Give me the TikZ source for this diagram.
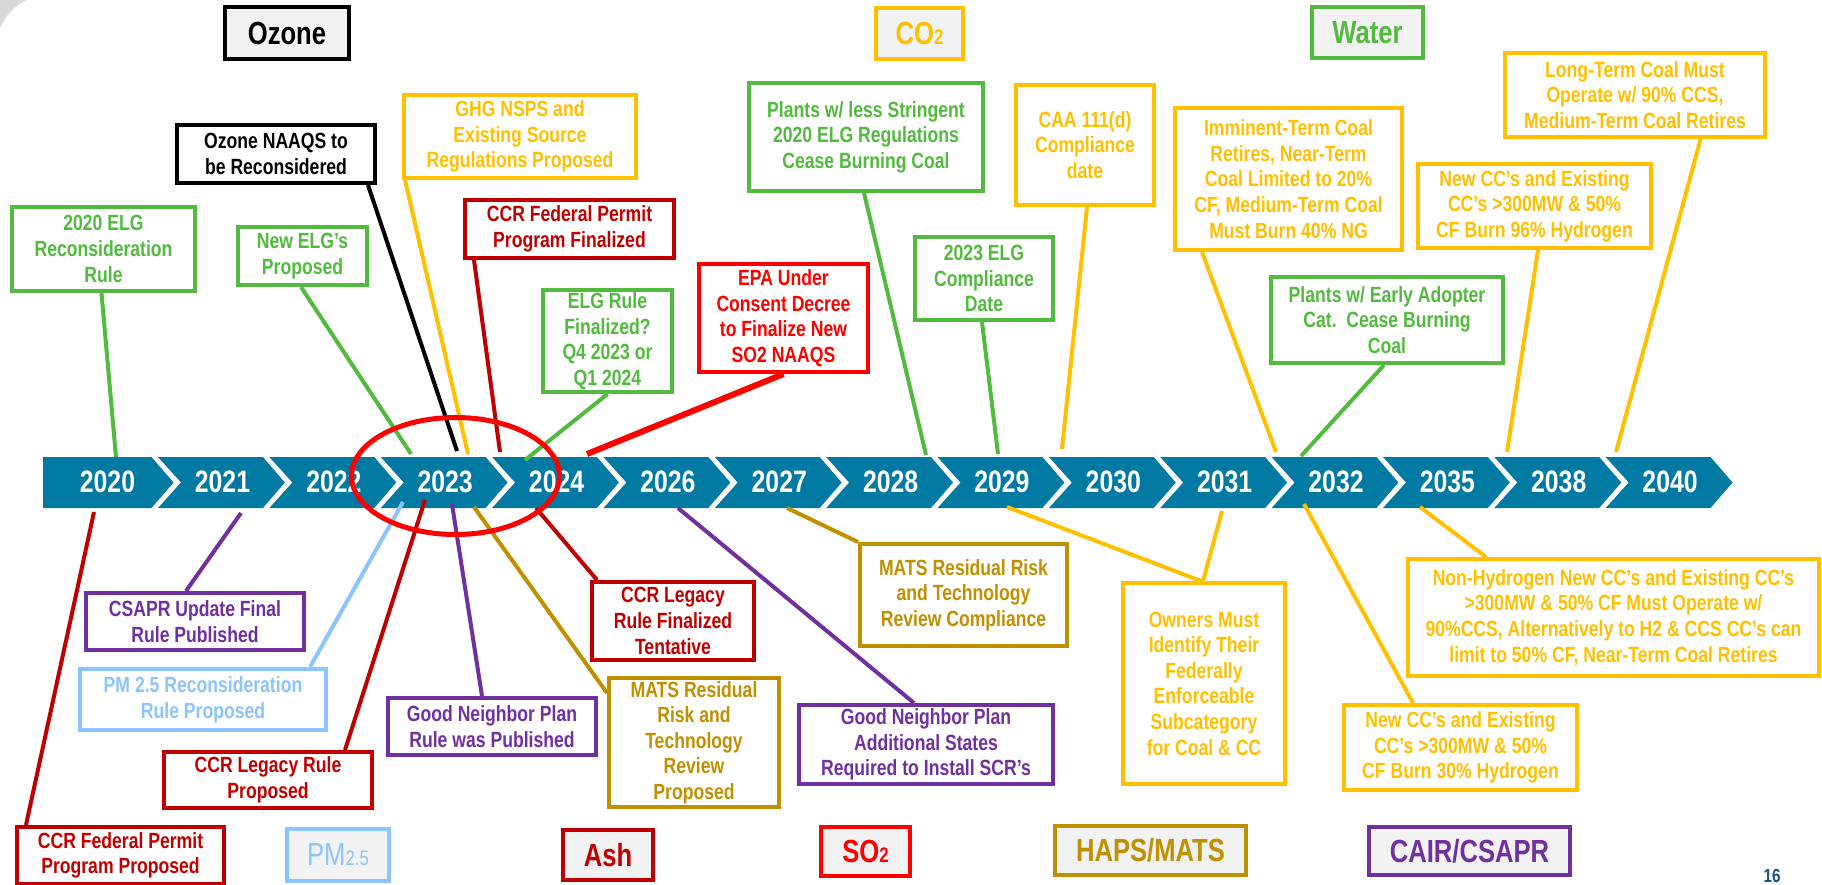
\documentclass[tikz,border=0pt]{standalone}
\usepackage{fontspec}
\setmainfont{Liberation Sans}[FakeStretch=0.8]
\usetikzlibrary{calc}
\pgfdeclarelayer{barlayer}
\pgfdeclarelayer{linelayer}
\pgfsetlayers{barlayer,linelayer,main}
\definecolor{cgreen}{RGB}{82,186,62}
\definecolor{cyellow}{RGB}{255,192,0}
\definecolor{cdred}{RGB}{192,0,0}
\definecolor{cred}{RGB}{255,0,0}
\definecolor{cpurple}{RGB}{112,48,160}
\definecolor{clblue}{RGB}{140,196,255}
\definecolor{colive}{RGB}{191,144,0}
\definecolor{barblue}{RGB}{0,122,162}
\definecolor{catgray}{RGB}{242,242,242}
\definecolor{pagenum}{RGB}{24,82,120}
\definecolor{cornergray}{RGB}{217,217,217}
\newcommand\tbox[7]{\node[box,draw=#2,text=#2,minimum width={#5-#3-4},minimum height={#6-#4-4}] (#1) at ({(#3+#5)/2},{(#4+#6)/2}) {#7};}
\newcommand\cbox[7]{\node[catbox,draw=#2,text=#2,minimum width={#5-#3-4},minimum height={#6-#4-4}] (#1) at ({(#3+#5)/2},{(#4+#6)/2}) {#7};}
\begin{document}
\begin{tikzpicture}[x=1pt,y=-1pt,
  box/.style={line width=4pt,fill=white,inner sep=0pt,align=center,font=\bfseries\fontsize{22}{25.6}\selectfont},
  catbox/.style={line width=4pt,fill=catgray,inner sep=0pt,align=center,font=\bfseries\fontsize{32}{36}\selectfont},
  conn/.style={line width=4pt},
  year/.style={text=white,inner sep=0pt,font=\bfseries\fontsize{31}{34}\selectfont}]
\useasboundingbox (0,0) rectangle (1822,884);
% corner decoration
\fill[cornergray] (0,0) -- (27,0) .. controls (15,5) and (5,16) .. (0,28) -- cycle;
% timeline bar
\begin{pgfonlayer}{barlayer}
\foreach \i/\yr in {0/2020,1/2021,2/2022,3/2023,4/2024,5/2026,6/2027,7/2028,8/2029,9/2030,10/2031,11/2032,12/2035,13/2038,14/2040} {
  \pgfmathsetmacro\L{158+111.36*(\i-1)}
  \pgfmathsetmacro\R{151.5+111.36*\i}
  \ifnum\i=0
    \fill[barblue] (43,457) -- (\R,457) -- ({\R+22},482.5) -- (\R,508) -- (43,508) -- cycle;
  \else
    \fill[barblue] (\L,457) -- (\R,457) -- ({\R+22},482.5) -- (\R,508) -- (\L,508) -- ({\L+23},482.5) -- cycle;
  \fi
}
\end{pgfonlayer}
\foreach \i/\yr in {0/2020,1/2021,2/2022,3/2023,4/2024,5/2026,6/2027,7/2028,8/2029,9/2030,10/2031,11/2032,12/2035,13/2038,14/2040} {
  \pgfmathsetmacro\c{\i==0 ? 107.5 : 222.5+111.35*(\i-1)}
  \node[year] (y\yr) at (\c,482) {\yr};
}
% bar end points of connectors
\coordinate (u1) at (116,457);
\coordinate (u2) at (411,454);
\coordinate (u3) at (457,451);
\coordinate (u4) at (468,454);
\coordinate (u5) at (500,452);
\coordinate (u6) at (525,460);
\coordinate (u7) at (587,454);
\coordinate (u8) at (926,455);
\coordinate (u9) at (998,454);
\coordinate (u10) at (1062,449);
\coordinate (u11) at (1276,452);
\coordinate (u12) at (1301,456);
\coordinate (u13) at (1507,452);
\coordinate (u14) at (1616,452);
\coordinate (d15) at (94,512);
\coordinate (d16) at (241,513);
\coordinate (d17) at (403,502);
\coordinate (d18) at (425,500);
\coordinate (d19) at (452,504);
\coordinate (d20) at (474,507);
\coordinate (d21) at (536,508);
\coordinate (d22) at (678,508);
\coordinate (d23) at (787,508);
\coordinate (d24a) at (1007,507);
\coordinate (d24b) at (1222,511);
\coordinate (d25) at (1304,504);
\coordinate (d26) at (1420,507);
% upper boxes
\tbox{bELG20}{cgreen}{10}{205}{197}{293}{2020 ELG\\Reconsideration\\Rule}
\tbox{bNewELG}{cgreen}{236}{225}{369}{287}{New ELG’s\\Proposed}
\tbox{bOzN}{black}{175}{123}{377}{185}{Ozone NAAQS to\\be Reconsidered}
\tbox{bGHG}{cyellow}{402}{93}{638}{180}{GHG NSPS and\\Existing Source\\Regulations Proposed}
\tbox{bCCRF}{cdred}{463}{198}{676}{260}{CCR Federal Permit\\Program Finalized}
\tbox{bELGR}{cgreen}{541}{288}{674}{394}{ELG Rule\\Finalized?\\Q4 2023 or\\Q1 2024}
\tbox{bEPA}{cred}{697}{262}{870}{374}{EPA Under\\Consent Decree\\to Finalize New\\SO2 NAAQS}
\tbox{bPlants}{cgreen}{747}{81}{985}{193}{Plants w/ less Stringent\\2020 ELG Regulations\\Cease Burning Coal}
\tbox{bELG23}{cgreen}{913}{235}{1055}{322}{2023 ELG\\Compliance\\Date}
\tbox{bCAA}{cyellow}{1014}{83}{1156}{207}{CAA 111(d)\\Compliance\\date}
\tbox{bImm}{cyellow}{1173}{106}{1404}{252}{Imminent-Term Coal\\Retires, Near-Term\\Coal Limited to 20\%\\CF, Medium-Term Coal\\Must Burn 40\% NG}
\tbox{bEarly}{cgreen}{1269}{275}{1505}{365}{Plants w/ Early Adopter\\Cat.\ \ Cease Burning\\Coal}
\tbox{bCC96}{cyellow}{1416}{162}{1653}{250}{New CC’s and Existing\\CC’s >300MW \& 50\%\\CF Burn 96\% Hydrogen}
\tbox{bLong}{cyellow}{1503}{51}{1767}{139}{Long-Term Coal Must\\Operate w/ 90\% CCS,\\Medium-Term Coal Retires}
% lower boxes
\tbox{bCCRP}{cdred}{15}{825}{226}{886}{CCR Federal Permit\\Program Proposed}
\tbox{bCSAPR}{cpurple}{84}{591}{306}{652}{CSAPR Update Final\\Rule Published}
\tbox{bPMR}{clblue}{78}{667}{328}{732}{PM 2.5 Reconsideration\\Rule Proposed}
\tbox{bCCRL}{cdred}{162}{750}{374}{810}{CCR Legacy Rule\\Proposed}
\tbox{bGNP}{cpurple}{386}{696}{598}{757}{Good Neighbor Plan\\Rule was Published}
\tbox{bCCRT}{cdred}{590}{580}{756}{662}{CCR Legacy\\Rule Finalized\\Tentative}
\tbox{bMATSP}{colive}{607}{676}{781}{809}{MATS Residual\\Risk and\\Technology\\Review\\Proposed}
\tbox{bGNA}{cpurple}{797}{703}{1055}{786}{Good Neighbor Plan\\Additional States\\Required to Install SCR’s}
\tbox{bMATSC}{colive}{858}{542}{1069}{648}{MATS Residual Risk\\and Technology\\Review Compliance}
\tbox{bOwn}{cyellow}{1121}{581}{1287}{786}{Owners Must\\Identify Their\\Federally\\Enforceable\\Subcategory\\for Coal \& CC}
\tbox{bCC30}{cyellow}{1342}{703}{1579}{792}{New CC’s and Existing\\CC’s >300MW \& 50\%\\CF Burn 30\% Hydrogen}
\tbox{bNonH}{cyellow}{1406}{557}{1821}{678}{Non-Hydrogen New CC’s and Existing CC’s\\>300MW \& 50\% CF Must Operate w/\\90\%CCS, Alternatively to H2 \& CCS CC’s can\\limit to 50\% CF, Near-Term Coal Retires}
% connectors
\begin{pgfonlayer}{linelayer}
\draw[conn,cgreen] ([xshift=-2pt]bELG20.south) -- (u1);
\draw[conn,cgreen] ([xshift=-1.5pt]bNewELG.south) -- (u2);
\draw[conn,black] ([xshift=92pt]bOzN.south) -- (u3);
\draw[conn,cyellow] ([xshift=3pt]bGHG.south west) -- (u4);
\draw[conn,cdred] ([xshift=11pt]bCCRF.south west) -- (u5);
\draw[conn,cgreen] (bELGR.south) -- (u6);
\draw[conn,cred,line width=6pt] (bEPA.south) -- (u7);
\draw[conn,cgreen] ([xshift=-2pt]bPlants.south) -- (u8);
\draw[conn,cgreen] ([xshift=-2pt]bELG23.south) -- (u9);
\draw[conn,cyellow] ([xshift=2pt]bCAA.south) -- (u10);
\draw[conn,cyellow] ([xshift=29pt]bImm.south west) -- (u11);
\draw[conn,cgreen] ([xshift=-3pt]bEarly.south) -- (u12);
\draw[conn,cyellow] ([xshift=3.5pt]bCC96.south) -- (u13);
\draw[conn,cyellow] ([xshift=65.6pt]bLong.south) -- (u14);
\draw[conn,cdred] (d15) -- ([xshift=11pt]bCCRP.north west);
\draw[conn,cpurple] (d16) -- ([xshift=-9pt]bCSAPR.north);
\draw[conn,clblue] (d17) -- ([xshift=107pt]bPMR.north);
\draw[conn,cdred] (d18) -- ([xshift=77pt]bCCRL.north);
\draw[conn,cpurple] (d19) -- ([xshift=-10pt]bGNP.north);
\draw[conn,colive] (d20) -- ([yshift=-17pt]bMATSP.north west);
\draw[conn,cdred] (d21) -- ([xshift=7pt]bCCRT.north west);
\draw[conn,cpurple] (d22) -- ([xshift=-12pt]bGNA.north);
\draw[conn,colive] (d23) -- (bMATSC.north west);
\draw[conn,cyellow] (d24a) -- ([xshift=-3pt]bOwn.north);
\draw[conn,cyellow] (d24b) -- ([xshift=-1pt]bOwn.north);
\draw[conn,cyellow] (d25) -- ([xshift=-47.5pt]bCC30.north);
\draw[conn,cyellow] (d26) -- ([xshift=80pt]bNonH.north west);
\end{pgfonlayer}
% category boxes
\cbox{cOzone}{black}{223}{5}{351}{61}{Ozone}
\cbox{cCO2}{cyellow}{874}{6}{965}{61}{CO{\fontsize{21}{21}\selectfont 2}}
\cbox{cWater}{cgreen}{1310}{5}{1425}{60}{Water}
\cbox{cPM}{clblue}{285}{827}{391}{883}{\mdseries PM{\fontsize{21}{21}\selectfont 2.5}}
\cbox{cAsh}{cdred}{561}{828}{655}{882}{Ash}
\cbox{cSO2}{cred}{819}{825}{912}{878}{SO{\fontsize{21}{21}\selectfont 2}}
\cbox{cHAPS}{colive}{1053}{824}{1248}{877}{HAPS/MATS}
\cbox{cCAIR}{cpurple}{1367}{825}{1572}{877}{CAIR/CSAPR}
% highlight ellipse
\draw[cred,line width=5pt] (455.5,476) ellipse [x radius=104, y radius=58.5];
% page number
\node[text=pagenum,inner sep=0pt,font=\bfseries\fontsize{19}{20}\selectfont] (pnum) at (1772,876) {16};
\end{tikzpicture}
\end{document}
